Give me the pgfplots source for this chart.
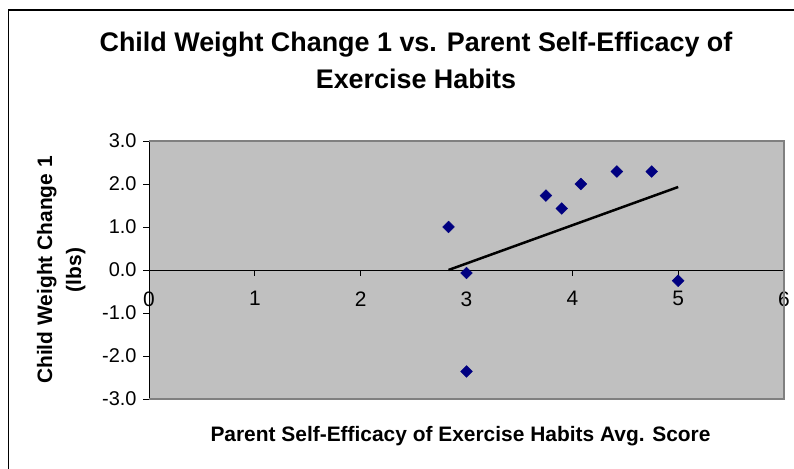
\documentclass[border=0pt]{standalone}
\usepackage{fontspec}
\setmainfont{Liberation Sans}
\usepackage{pgfplots}
\pgfplotsset{compat=1.18}
\definecolor{plotgray}{HTML}{C0C0C0}
\definecolor{bordergray}{HTML}{808080}
\definecolor{navy}{HTML}{000080}
\begin{document}
\begin{tikzpicture}[x=1bp,y=1bp]
\useasboundingbox (0,0) rectangle (794,469);
\fill[white] (0,0) rectangle (794,469);
\draw[line width=1.5bp] (8.5,-5) -- (8.5,459) -- (800,459);
\begin{axis}[
  at={(149bp,70bp)}, anchor=south west, scale only axis,
  width=635bp, height=258bp,
  xmin=0, xmax=6, ymin=-3, ymax=3,
  axis x line=middle, axis y line=left,
  axis line style={-, black, line width=0.8bp},
  axis background/.style={fill=plotgray},
  xtick={0,...,6}, ytick={-3,...,3},
  tick align=outside, major tick length=6bp,
  tick style={black, line width=0.8bp},
  hide obscured x ticks=false, hide obscured y ticks=false,
  /pgf/number format/assume math mode=true,
  yticklabel style={/pgf/number format/fixed, /pgf/number format/fixed zerofill, /pgf/number format/precision=1, font=\fontsize{20}{22}\selectfont, xshift=-3bp},
  xticklabel style={font=\fontsize{21}{24}\selectfont, yshift=-12bp},
  clip=false,
]
\draw[bordergray, line width=2bp] (rel axis cs:0,1) -- (rel axis cs:1,1) -- (rel axis cs:1,0) -- (rel axis cs:0,0);
\addplot[black, line width=2.5bp] coordinates {(2.83,0.0) (5.0,1.93)};
\addplot[only marks, mark=square*, mark size=4.2bp, mark options={rotate=45, fill=navy, draw=navy}] coordinates {
(2.83,1.0) (3.0,-0.07) (3.0,-2.36) (3.75,1.73) (3.9,1.43) (4.08,2.0) (4.42,2.29) (4.75,2.29) (5.0,-0.25)};
\end{axis}
\node[anchor=base, font=\fontsize{27}{32}\selectfont\bfseries] at (416,417) {Child Weight Change 1 vs. Parent Self-Efficacy of};
\node[anchor=base, font=\fontsize{27}{32}\selectfont\bfseries] at (416,380) {Exercise Habits};
\node[anchor=base west, font=\fontsize{21}{24}\selectfont\bfseries] at (207,27) {Parent Self-Efficacy of Exercise Habits Avg. Score};
\node[anchor=base, rotate=90, font=\fontsize{21}{24}\selectfont\bfseries] at (52,199) {Child Weight Change 1};
\node[anchor=base, rotate=90, font=\fontsize{21}{24}\selectfont\bfseries] at (81,199) {(lbs)};
\end{tikzpicture}
\end{document}
